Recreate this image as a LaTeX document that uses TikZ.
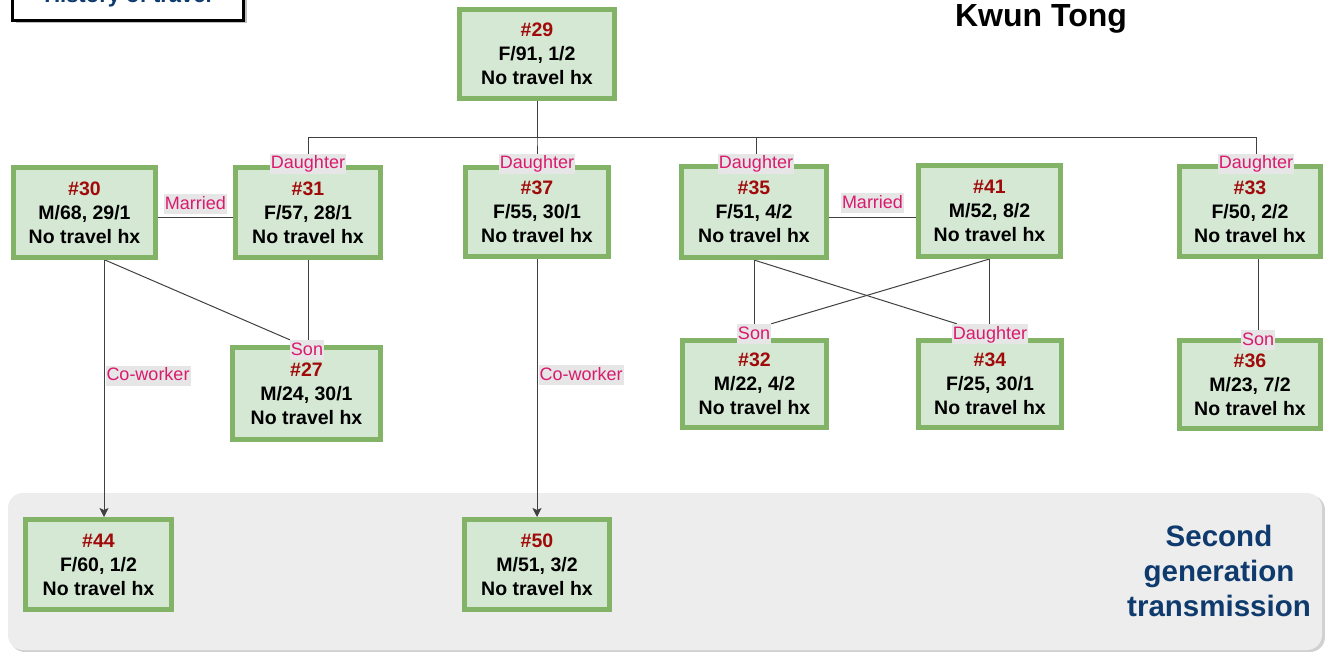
\documentclass[tikz,border=0pt]{standalone}
\usepackage{fontspec}
\setmainfont{Liberation Sans}
\usetikzlibrary{arrows.meta}

\definecolor{boxfill}{HTML}{D5E8D4}
\definecolor{boxline}{HTML}{82B366}
\definecolor{idred}{HTML}{A00A0A}
\definecolor{relpink}{HTML}{D91A6E}
\definecolor{relbg}{HTML}{E6E6E6}
\definecolor{navy}{HTML}{0E3A6E}
\definecolor{zone}{HTML}{EDEDED}
\definecolor{edgegray}{HTML}{404040}

\pgfdeclarelayer{zonelayer}
\pgfdeclarelayer{edgelayer}
\pgfsetlayers{zonelayer,edgelayer,main}

\begin{document}
\begin{tikzpicture}[x=1pt,y=-1pt,
  case/.style={draw=boxline, fill=boxfill, line width=5pt, inner sep=0pt,
    align=center, font=\bfseries\fontsize{19.5}{24}\selectfont},
  rel/.style={fill=relbg, text=relpink, font=\fontsize{18}{18}\selectfont,
    inner xsep=1pt, inner ysep=1.5pt, text height=13.5pt, text depth=3.5pt},
  link/.style={draw=edgegray, line width=1pt},
  arrowlink/.style={link, -{Stealth[length=9pt,width=9pt,inset=2pt]}},
]
\useasboundingbox (0,0) rectangle (1325,652);
\clip (0,0) rectangle (1325,652);

% second-generation zone
\begin{pgfonlayer}{zonelayer}
  \fill[black!18, rounded corners=15pt] (10,495) rectangle (1325,652);
  \fill[zone, rounded corners=15pt] (8,493) rectangle (1322,650);
\end{pgfonlayer}

% legend box (top left)
\fill[black!25] (15.5,-40) rectangle (246.5,23.5);
\draw[line width=3pt, fill=white] (12.5,-40) rectangle (243.5,20.5);
\node[anchor=base, text=navy, font=\bfseries\fontsize{22}{22}\selectfont] (hist) at (128,3) {History of travel};

% titles
\node[anchor=base, font=\bfseries\fontsize{32}{32}\selectfont] (title) at (1041,27) {Kwun Tong};
\node[align=center, text=navy, font=\bfseries\fontsize{29.5}{35}\selectfont] (gen) at (1219,571) {Second\\generation\\transmission};

% cases
\node[case, minimum width=155pt, minimum height=89pt] (n29) at (537,54) {\textcolor{idred}{\#29}\\F/91, 1/2\\No travel hx};
\node[case, minimum width=142pt, minimum height=90pt] (n30) at (84.5,212.5) {\textcolor{idred}{\#30}\\M/68, 29/1\\No travel hx};
\node[case, minimum width=145pt, minimum height=90pt] (n31) at (308,212.5) {\textcolor{idred}{\#31}\\F/57, 28/1\\No travel hx};
\node[case, minimum width=143pt, minimum height=89pt] (n37) at (537,212) {\textcolor{idred}{\#37}\\F/55, 30/1\\No travel hx};
\node[case, minimum width=145pt, minimum height=91pt] (n35) at (754,212) {\textcolor{idred}{\#35}\\F/51, 4/2\\No travel hx};
\node[case, minimum width=142pt, minimum height=91pt] (n41) at (989.5,211) {\textcolor{idred}{\#41}\\M/52, 8/2\\No travel hx};
\node[case, minimum width=141pt, minimum height=90pt] (n33) at (1250,211.5) {\textcolor{idred}{\#33}\\F/50, 2/2\\No travel hx};
\node[case, minimum width=148pt, minimum height=92pt] (n27) at (306.5,393.5) {\textcolor{idred}{\#27}\\M/24, 30/1\\No travel hx};
\node[case, minimum width=144pt, minimum height=87pt] (n32) at (754.5,384) {\textcolor{idred}{\#32}\\M/22, 4/2\\No travel hx};
\node[case, minimum width=143pt, minimum height=87pt] (n34) at (990,384) {\textcolor{idred}{\#34}\\F/25, 30/1\\No travel hx};
\node[case, minimum width=141pt, minimum height=88pt] (n36) at (1250,384.5) {\textcolor{idred}{\#36}\\M/23, 7/2\\No travel hx};
\node[case, minimum width=146pt, minimum height=90pt] (n44) at (98.5,564.5) {\textcolor{idred}{\#44}\\F/60, 1/2\\No travel hx};
\node[case, minimum width=145pt, minimum height=90pt] (n50) at (537,564.5) {\textcolor{idred}{\#50}\\M/51, 3/2\\No travel hx};

% relation labels at the child boxes
\node[rel] (l31) at (308,164) {Daughter};
\node[rel] (l37) at (537,164) {Daughter};
\node[rel] (l35) at (756,164) {Daughter};
\node[rel] (l33) at (1256,164) {Daughter};
\node[rel] (l27) at (307,350) {Son};
\node[rel] (l32) at (754,334) {Son};
\node[rel] (l34) at (990,334) {Daughter};
\node[rel] (l36) at (1258,340) {Son};

\coordinate (mA) at (0,218);

% connectors
\begin{pgfonlayer}{edgelayer}
  \draw[link] (n29.south) -- ++(0,37) -| (l31.north);
  \draw[link] (n29.south) -- ++(0,37) -| (l37.north);
  \draw[link] (n29.south) -- ++(0,37) -| (l35.north);
  \draw[link] (n29.south) -- ++(0,37) -| (l33.north);

  \draw[link] (n30.east |- mA) -- node[rel, above=3pt] (m1) {Married} (n31.west |- mA);
  \draw[link] (n35.east |- mA) -- node[rel, above=4pt] (m2) {Married} (n41.west |- mA);

  \draw[link] ([xshift=20.5pt]n30.south) -- (l27.north west);
  \draw[link] (n31.south) -- (n31.south |- l27.north);

  \draw[link] (n35.south) -- (n35.south |- l32.north);
  \draw[link] (n35.south) -- ([xshift=5pt]l34.north west);
  \draw[link] (n41.south) -- (l32.north east);
  \draw[link] (n41.south) -- (n41.south |- l34.north);

  \draw[link] ([xshift=8pt]n33.south) -- (l36.north);

  \draw[arrowlink] ([xshift=19.5pt]n30.south) -- node[rel, pos=0.45, anchor=west, xshift=1pt] (cw1) {Co-worker} ([xshift=5.5pt]n44.north);
  \draw[arrowlink] (n37.south) -- node[rel, pos=0.45, anchor=west, xshift=1pt] (cw2) {Co-worker} (n50.north);
\end{pgfonlayer}
\end{tikzpicture}
\end{document}
